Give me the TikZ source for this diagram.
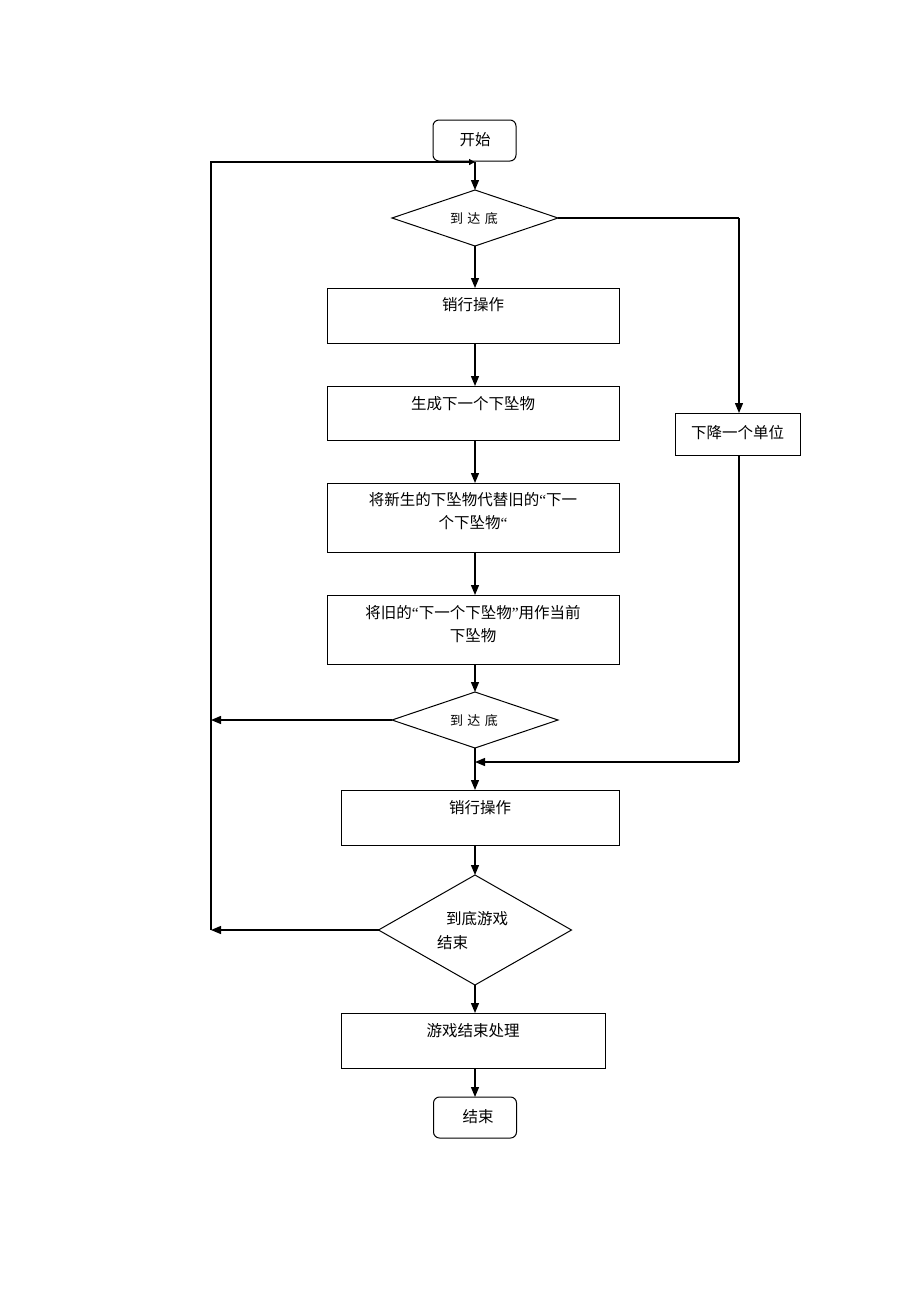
\documentclass[tikz,border=0pt]{standalone}
\usepackage{fontspec}
\setmainfont{Noto Sans CJK SC}
\newfontfamily\latq{Liberation Serif}
\newcommand{\myLq}{{\latq “}}
\newcommand{\myRq}{{\latq ”}}
\usetikzlibrary{arrows.meta,shapes.geometric}
\begin{document}
\begin{tikzpicture}[x=1pt,y=-1pt,
  line width=1.2pt,
  every node/.style={inner sep=0pt,outer sep=0pt},
  box/.style={draw,rectangle,line width=1pt},
  rbox/.style={draw,rectangle,rounded corners=6pt,line width=1pt},
  dia/.style={draw,diamond,line width=1pt},
  txt/.style={font=\fontsize{15.5}{23}\selectfont,align=center},
  stxt/.style={font=\fontsize{13}{16}\selectfont},
  arr/.style={-{Triangle[length=10pt,width=8pt]}},
  flow/.style={line width=1.3pt}]
\useasboundingbox (0,0) rectangle (920,1302);
% nodes
\node[rbox,minimum width=83pt,minimum height=41pt] (start) at (474.5,140.5) {};
\node[txt] (starttxt) at (475,140) {开始};
\node[dia,minimum width=166pt,minimum height=56pt] (d1) at (475,218) {};
\node[stxt] (d1txt) at (474,219) {到\,\,达\,\,底};
\node[box,minimum width=292pt,minimum height=55pt] (b1) at (473,315.5) {};
\node[txt] (b1txt) at (473,305) {销行操作};
\node[box,minimum width=292pt,minimum height=54pt] (b2) at (473,413) {};
\node[txt] (b2txt) at (473,404) {生成下一个下坠物};
\node[box,minimum width=292pt,minimum height=69pt] (b3) at (473,517.5) {};
\node[txt] (b3txt) at (473,511.5) {将新生的下坠物代替旧的\myLq 下一\\个下坠物\myLq};
\node[box,minimum width=292pt,minimum height=69pt] (b4) at (473,629.5) {};
\node[txt] (b4txt) at (473,624) {将旧的\myLq 下一个下坠物\myRq 用作当前\\下坠物};
\node[dia,minimum width=166pt,minimum height=56pt] (d2) at (475,720) {};
\node[stxt] (d2txt) at (474,721) {到\,\,达\,\,底};
\node[box,minimum width=278pt,minimum height=55pt] (b5) at (480,817.5) {};
\node[txt] (b5txt) at (480,808) {销行操作};
\node[dia,minimum width=193pt,minimum height=110pt] (d3) at (475,930) {};
\node[txt,anchor=west] (d3txt1) at (446,919) {到底游戏};
\node[txt,anchor=west] (d3txt2) at (437,943) {结束};
\node[box,minimum width=264pt,minimum height=55pt] (b6) at (473,1040.5) {};
\node[txt] (b6txt) at (473,1031) {游戏结束处理};
\node[rbox,minimum width=83pt,minimum height=41pt] (end) at (475,1117.5) {};
\node[txt] (endtxt) at (478,1117) {结束};
\node[box,minimum width=125pt,minimum height=42pt] (r1) at (737.5,434) {};
\node[txt] (r1txt) at (737.5,433) {下降一个单位};
% coordinates
\coordinate (top) at (475,162);
\coordinate (tl) at (211,162);
\coordinate (l2) at (211,720);
\coordinate (l3) at (211,930);
\coordinate (rt) at (739,218);
\coordinate (rb) at (739,762);
\coordinate (mg) at (475,762);
% connectors
\draw[flow,arr] (top) -- (d1.north);
\draw[flow,arr] (d1.south) -- (b1.north -| d1.south);
\draw[flow,arr] (b1.south -| d1.south) -- (b2.north -| d1.south);
\draw[flow,arr] (b2.south -| d1.south) -- (b3.north -| d1.south);
\draw[flow,arr] (b3.south -| d1.south) -- (b4.north -| d1.south);
\draw[flow,arr] (b4.south -| d1.south) -- (d2.north);
\draw[flow,arr] (d2.south) -- (b5.north -| d2.south);
\draw[flow,arr] (b5.south -| d2.south) -- (d3.north);
\draw[flow,arr] (d3.south) -- (b6.north -| d3.south);
\draw[flow,arr] (b6.south -| d3.south) -- (end.north);
\draw[flow] (d1.east) -- (rt);
\draw[flow,arr] (rt) -- (r1.north -| rt);
\draw[flow] (r1.south -| rb) -- (rb);
\draw[flow,arr] (rb) -- (mg);
\draw[flow,arr] (d2.west) -- (l2);
\draw[flow,arr] (d3.west) -- (l3);
\draw[flow,-{Triangle[length=6pt,width=6pt]}] (l3) -- (tl) -- (top);
\end{tikzpicture}
\end{document}
